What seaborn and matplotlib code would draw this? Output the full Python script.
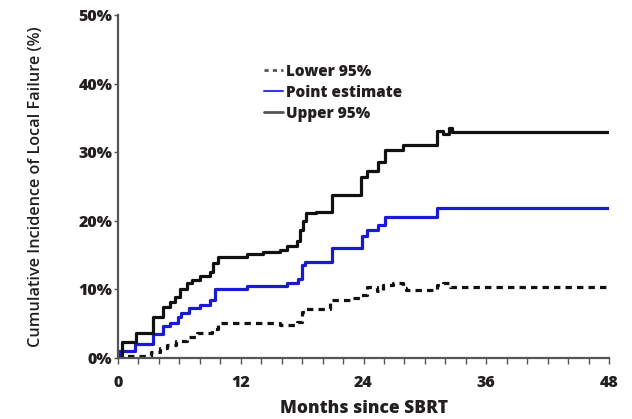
import numpy as np
import pandas as pd
import matplotlib
matplotlib.use("Agg")
import matplotlib.pyplot as plt
from matplotlib.lines import Line2D
from matplotlib.ticker import MultipleLocator, FuncFormatter
import seaborn as sns

# ---- data ----
point_t = [0, 0.05, 1.7, 3.45, 4.4, 5.1, 5.9, 6.2, 6.9, 8.0, 9.0, 9.5, 12.6, 16.5,
           17.6, 17.95, 18.3, 20.9, 23.9, 24.3, 25.4, 26.1, 31.2, 48]
point_v = [0, 1.0, 2.0, 3.5, 4.6, 5.1, 6.0, 6.6, 7.3, 7.7, 8.5, 10.0, 10.5, 11.0,
           11.5, 13.5, 14.0, 16.0, 17.8, 18.6, 19.4, 20.5, 21.8, 21.8]

upper_t = [0, 0.35, 1.76, 3.45, 4.4, 5.1, 5.6, 6.1, 6.7, 7.2, 8.0, 9.0, 9.3, 9.8,
           12.6, 14.2, 15.8, 16.5, 17.5, 17.8, 18.05, 18.4, 19.4, 20.9, 23.8, 24.3,
           25.4, 26.1, 27.9, 31.15, 31.8, 32.4, 32.7, 48]
upper_v = [0, 2.4, 3.6, 6.0, 7.5, 8.2, 8.9, 10.0, 11.0, 11.4, 12.0, 12.6, 13.8, 14.7,
           15.2, 15.5, 15.7, 16.3, 17.0, 18.7, 19.9, 21.1, 21.3, 23.8, 26.4, 27.2,
           28.6, 30.3, 31.0, 33.1, 32.7, 33.6, 33.0, 33.0]

lower_t = [0, 0.5, 3.2, 4.1, 4.8, 5.7, 6.7, 7.7, 8.7, 9.2, 9.8, 15.8, 17.5, 17.95,
           18.4, 20.7, 23.0, 23.65, 24.3, 25.3, 25.9, 26.9, 27.9, 28.2, 31.15, 31.8,
           32.45, 48]
lower_v = [0, 0.3, 0.9, 1.5, 1.9, 2.5, 3.0, 3.6, 3.7, 4.3, 5.1, 4.8, 5.3, 6.75,
           7.2, 8.45, 8.7, 9.2, 10.4, 9.7, 10.6, 11.0, 10.2, 9.9, 10.6, 10.9,
           10.4, 10.4]

series_labels = ["Lower 95%", "Point estimate", "Upper 95%"]
x_ticks = [0, 12, 24, 36, 48]
y_ticks = [0, 10, 20, 30, 40, 50]

sns.set_style("white")
plt.rcParams["font.family"] = ["Open Sans", "DejaVu Sans"]
txt = "#231f20"

fig = plt.figure(figsize=(6.32, 4.19), dpi=100)
ax = fig.add_axes([118/632, 1-358/419, (609-118)/632, (358-15)/419])

dfs = {
    "lower": pd.DataFrame({"t": lower_t, "v": lower_v}),
    "point": pd.DataFrame({"t": point_t, "v": point_v}),
    "upper": pd.DataFrame({"t": upper_t, "v": upper_v}),
}

sns.lineplot(data=dfs["lower"], x="t", y="v", ax=ax, color="#111111", lw=2.3,
             drawstyle="steps-post", linestyle=(0, (2.0, 1.6)), sort=False, estimator=None)
sns.lineplot(data=dfs["point"], x="t", y="v", ax=ax, color="#1a1ad2", lw=2.3,
             drawstyle="steps-post", sort=False, estimator=None)
sns.lineplot(data=dfs["upper"], x="t", y="v", ax=ax, color="#111111", lw=2.3,
             drawstyle="steps-post", sort=False, estimator=None)

ax.set_xlim(0, 48)
ax.set_ylim(0, 50)
ax.set_xticks(x_ticks)
ax.xaxis.set_minor_locator(MultipleLocator(2))
ax.set_yticks(y_ticks)
ax.yaxis.set_major_formatter(FuncFormatter(lambda v, p: f"{int(v)}%"))

for s in ["top", "right"]:
    ax.spines[s].set_visible(False)
for s in ["left", "bottom"]:
    ax.spines[s].set_color("#555555")
    ax.spines[s].set_linewidth(1.6)

ax.tick_params(axis="x", which="both", direction="out", length=4, width=1,
               color="#555555", bottom=True, pad=8)
ax.tick_params(axis="y", which="major", direction="out", length=3, width=1,
               color="#555555", left=True, pad=1)
for lab in ax.get_xticklabels() + ax.get_yticklabels():
    lab.set_fontweight(800)
    lab.set_fontsize(11.5)
    lab.set_color(txt)

ax.set_xlabel("Months since SBRT", fontsize=12.5, fontweight=800, color=txt, labelpad=6.5)
ax.set_ylabel("Cumulative Incidence of Local Failure (%)", fontsize=11.7, color=txt,
              fontweight=600, labelpad=25)

handles = [
    Line2D([], [], color="#555555", lw=2, linestyle=(0, (1.5, 1.5))),
    Line2D([], [], color="#3a3ae0", lw=1.5),
    Line2D([], [], color="#555555", lw=2),
]
leg = ax.legend(handles, series_labels, loc="upper left",
                bbox_to_anchor=(250/632, 1-50/419), bbox_transform=fig.transFigure,
                frameon=False, handlelength=1.25, handletextpad=0.2,
                labelspacing=0.33, prop={"weight": 800, "size": 11})
for t in leg.get_texts():
    t.set_color(txt)

fig.savefig("out.png", dpi=100)
